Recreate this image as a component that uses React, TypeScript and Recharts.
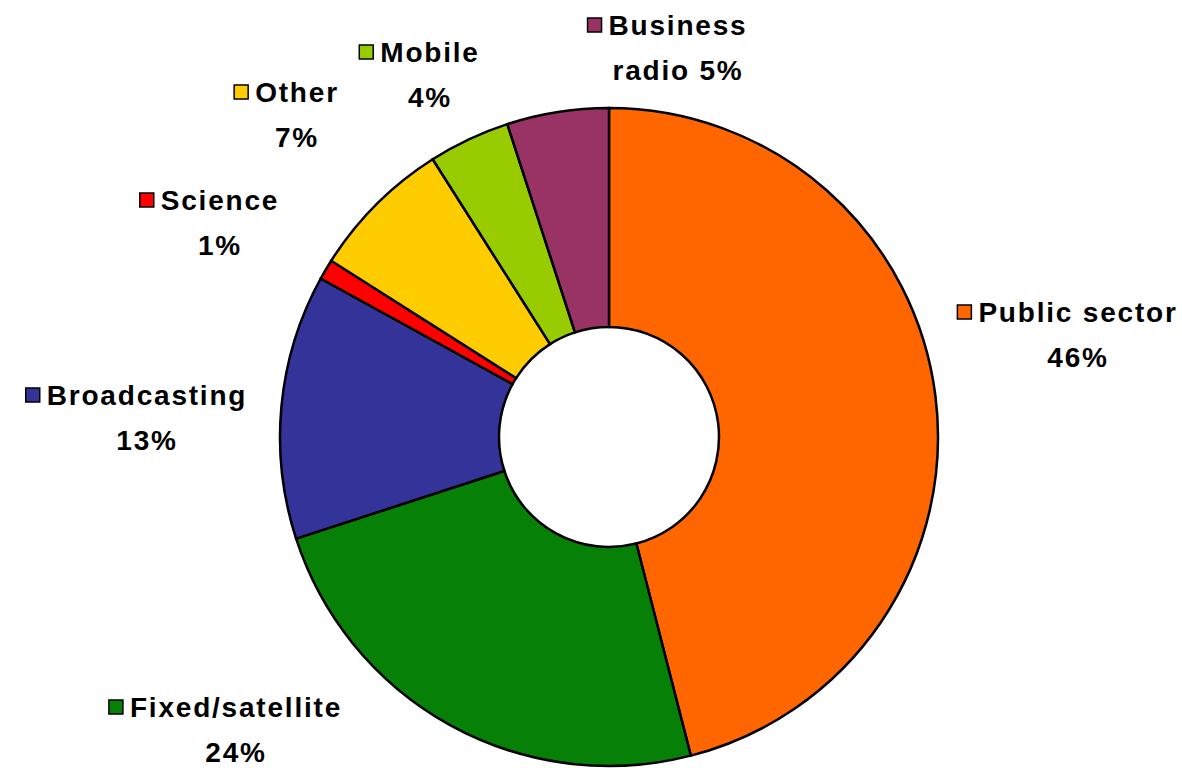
import { useLayoutEffect, useRef, useState } from 'react'
import { PieChart, Pie, Cell } from 'recharts'

const categories = ['Public sector', 'Fixed/satellite', 'Broadcasting', 'Science', 'Other', 'Mobile', 'Business radio']
const shares = [46, 24, 13, 1, 7, 4, 5]
const colors = ['#FF6600', '#078007', '#333399', '#FF0000', '#FFCC00', '#99CC00', '#993366']
// how many words of "name pct%" go on the first label line
const firstLineWords = [2, 1, 1, 1, 1, 1, 1]

// label anchors (centre of name line, baseline) relative to pie centre
const LABEL_OFFSETS: [number, number][] = [
  [469, -115],
  [-373, 280],
  [-462, -32],
  [-389, -227],
  [-312, -335],
  [-179, -375],
  [69, -402],
]

const data = categories.map((name, i) => ({ name, value: shares[i] }))

const FONT = '"Liberation Sans", Arial, sans-serif'

function SliceLabel({ x, y, lines, color }: { x: number; y: number; lines: [string, string]; color: string }) {
  const ref = useRef<SVGTextElement>(null)
  const [w, setW] = useState(0)
  useLayoutEffect(() => {
    if (ref.current) setW(ref.current.getComputedTextLength())
  }, [lines[0]])

  const textProps = {
    fontFamily: FONT,
    fontWeight: 700,
    fontSize: 28,
    letterSpacing: 1.8,
    fill: '#000',
    textAnchor: 'middle' as const,
  }

  return (
    <g>
      {w > 0 && (
        <rect x={x - w / 2 - 21} y={y - 17} width={14} height={14} fill={color} stroke="#000" strokeWidth={1.5} />
      )}
      <text ref={ref} x={x} y={y} {...textProps}>{lines[0]}</text>
      <text x={x} y={y + 45} {...textProps}>{lines[1]}</text>
    </g>
  )
}

export default function App() {
  const renderLabel = (props: any) => {
    const { cx, cy, index, name, value } = props
    const [dx, dy] = LABEL_OFFSETS[index]
    const words = `${name} ${value}%`.split(' ')
    const n = firstLineWords[index]
    const lines: [string, string] = [words.slice(0, n).join(' '), words.slice(n).join(' ')]
    return <SliceLabel key={name} x={cx + dx} y={cy + dy} lines={lines} color={colors[index]} />
  }

  return (
    <div style={{ position: 'absolute', left: 0, top: 0, width: 1182, height: 768, background: '#fff' }}>
      <PieChart width={1182} height={768} margin={{ top: 0, right: 0, bottom: 0, left: 0 }}>
        <Pie
          data={data}
          dataKey="value"
          nameKey="name"
          cx={609}
          cy={437}
          outerRadius={329}
          innerRadius={110}
          startAngle={90}
          endAngle={-270}
          stroke="#000"
          strokeWidth={2.5}
          label={renderLabel}
          labelLine={false}
          isAnimationActive={false}
        >
          {data.map((d, i) => (
            <Cell key={d.name} fill={colors[i]} />
          ))}
        </Pie>
      </PieChart>
    </div>
  )
}
